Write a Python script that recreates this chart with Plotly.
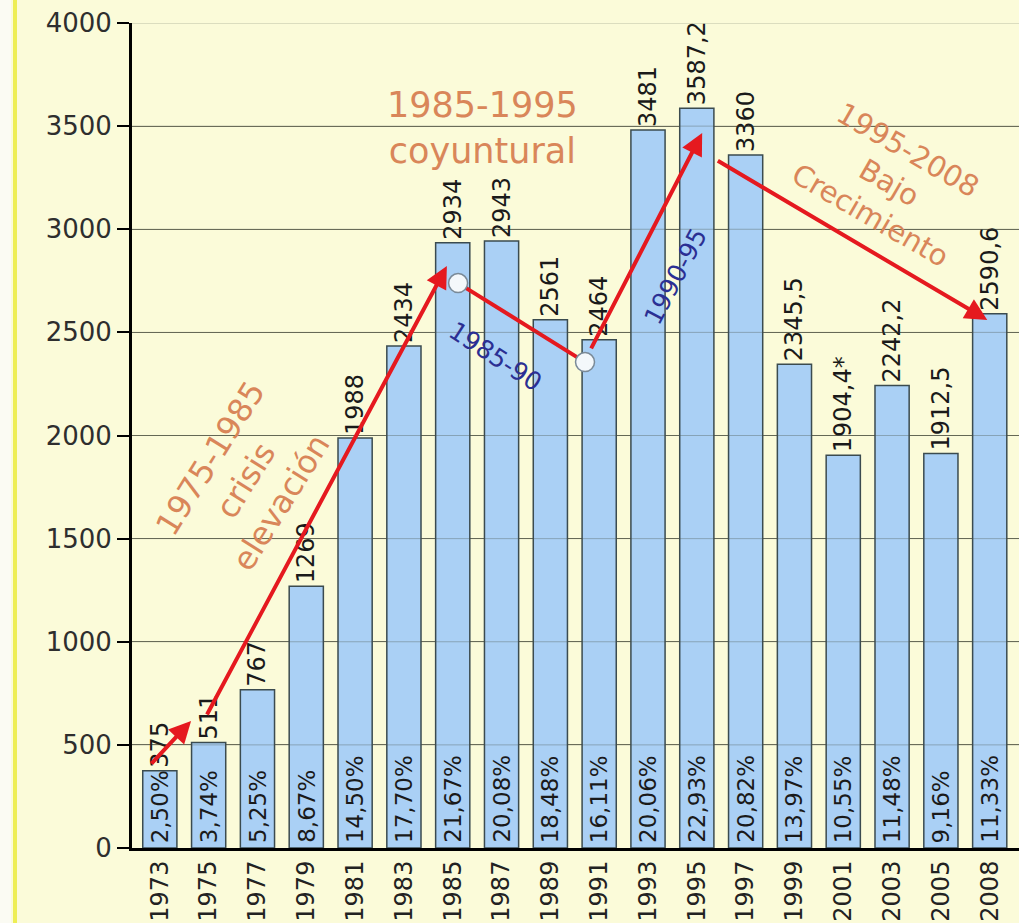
import plotly.graph_objects as go

# ---- data ----
years = ["1973", "1975", "1977", "1979", "1981", "1983", "1985", "1987", "1989",
         "1991", "1993", "1995", "1997", "1999", "2001", "2003", "2005", "2008"]
values = [375, 511, 767, 1269, 1988, 2434, 2934, 2943, 2561,
          2464, 3481, 3587.2, 3360, 2345.5, 1904.4, 2242.2, 1912.5, 2590.6]
value_labels = ["375", "511", "767", "1269", "1988", "2434", "2934", "2943", "2561",
                "2464", "3481", "3587,2", "3360", "2345,5", "1904,4*", "2242,2", "1912,5", "2590,6"]
pct_labels = ["2,50%", "3,74%", "5,25%", "8,67%", "14,50%", "17,70%", "21,67%", "20,08%", "18,48%",
              "16,11%", "20,06%", "22,93%", "20,82%", "13,97%", "10,55%", "11,48%", "9,16%", "11,33%"]
y_ticks = [0, 500, 1000, 1500, 2000, 2500, 3000, 3500, 4000]

# ---- overlay geometry (data coordinates: bar index, value) ----
arrows = [  # (tail_x, tail_y, head_x, head_y)
    (-0.20, 402, 0.64, 616),
    (0.95, 640, 5.88, 2822),
    (8.82, 2415, 11.11, 3467),
    (11.40, 3336, 16.95, 2560),
]
circles_x = [6.11, 8.71]
circles_y = [2739, 2356]

FONT = "DejaVu Sans"
RED = "#e5191f"
ORANGE = "#d98659"
BLUE = "#2b2f93"
BG = "#fbfbd9"

xidx = list(range(len(years)))

fig = go.Figure()
fig.add_trace(go.Bar(
    x=xidx, y=values, width=0.7,
    marker=dict(color="#aad0f5", line=dict(color="#3b4b4f", width=1.5)),
    text=value_labels, textposition="outside", textangle=-90,
    textfont=dict(family=FONT, size=24, color="#1a1a1a"),
    constraintext="none", cliponaxis=False, hoverinfo="skip",
))

# line 1985-90 segment and circles
fig.add_trace(go.Scatter(
    x=circles_x, y=circles_y, mode="lines",
    line=dict(color=RED, width=4), hoverinfo="skip",
))
fig.add_trace(go.Scatter(
    x=circles_x, y=circles_y, mode="markers",
    marker=dict(size=19, color="#f4f8fb", line=dict(color="#7a8a98", width=1.5)),
    hoverinfo="skip",
))

annotations = []
for i, p in zip(xidx, pct_labels):
    annotations.append(dict(
        x=i, y=0, xref="x", yref="y", text=p, showarrow=False,
        textangle=-90, yanchor="bottom", xanchor="center", yshift=3,
        font=dict(family=FONT, size=23, color="#1a1a1a"),
    ))

for (tx, ty, hx, hy) in arrows:
    annotations.append(dict(
        x=hx, y=hy, ax=tx, ay=ty, xref="x", yref="y", axref="x", ayref="y",
        text="", showarrow=True, arrowhead=2, arrowsize=1.1, arrowwidth=4,
        arrowcolor=RED, standoff=0, startstandoff=0,
    ))

texts = [
    ("hasta 1973", -1.29, 897, 0, "#e6a678", 27, True),
    ("1985-1995<br>coyuntural", 6.60, 3491, 0, ORANGE, 35, False),
    ("1975-1985<br>crisis<br>elevación", 1.75, 1784, -58, ORANGE, 32, False),
    ("1985-90", 6.87, 2381, 33, BLUE, 25, False),
    ("1990-95", 10.56, 2773, -62, BLUE, 25, False),
    ("1995-2008<br>Bajo<br>Crecimiento", 14.94, 3229, 30, ORANGE, 29, False),
]
for (t, x, y, ang, col, sz, bold) in texts:
    annotations.append(dict(
        x=x, y=y, xref="x", yref="y", text=(f"<b>{t}</b>" if bold else t),
        showarrow=False, textangle=ang, xanchor="center", yanchor="middle",
        font=dict(family=FONT, size=sz, color=col), align="center",
    ))

plot_w = 1019 - 132
plot_h = 848 - 23
shapes = [
    dict(type="rect", xref="paper", yref="paper",
         x0=-132 / plot_w, x1=(11 - 132) / plot_w, y0=-75 / plot_h, y1=848 / plot_h,
         fillcolor="#fbfbf3", line=dict(width=0), layer="below"),
    dict(type="line", xref="paper", yref="paper",
         x0=(15 - 132) / plot_w, x1=(15 - 132) / plot_w, y0=-75 / plot_h, y1=848 / plot_h,
         line=dict(color="#eeee55", width=4), layer="below"),
]
# faint grid lines drawn over the bars, as in the reference
for t in y_ticks[1:]:
    shapes.append(dict(type="line", xref="paper", yref="y", x0=0, x1=1, y0=t, y1=t,
                       line=dict(color="rgba(70,80,70,0.35)", width=1), layer="above"))

fig.update_layout(
    width=1019, height=923, autosize=False,
    margin=dict(l=132, r=0, t=23, b=75),
    paper_bgcolor=BG, plot_bgcolor=BG,
    showlegend=False, barmode="overlay",
    annotations=annotations, shapes=shapes,
    xaxis=dict(
        range=[-0.57, 17.6], tickmode="array", tickvals=xidx, ticktext=years,
        tickangle=-90, tickfont=dict(family=FONT, size=24, color="#222"),
        showline=True, linecolor="black", linewidth=3, ticks="", showgrid=False,
        zeroline=False, fixedrange=True,
    ),
    yaxis=dict(
        range=[0, 4000], tickmode="array", tickvals=y_ticks,
        tickfont=dict(family=FONT, size=26, color="#2e2e2e"),
        showline=True, linecolor="black", linewidth=3,
        ticks="outside", ticklen=12, tickwidth=2, tickcolor="black",
        showgrid=True, gridcolor="#75755f", gridwidth=1.2, zeroline=False,
        fixedrange=True,
    ),
)

fig.write_html(
    "out.html",
    config={"displayModeBar": False},
    post_script="document.body.style.margin='0';document.body.style.overflow='hidden';",
)
